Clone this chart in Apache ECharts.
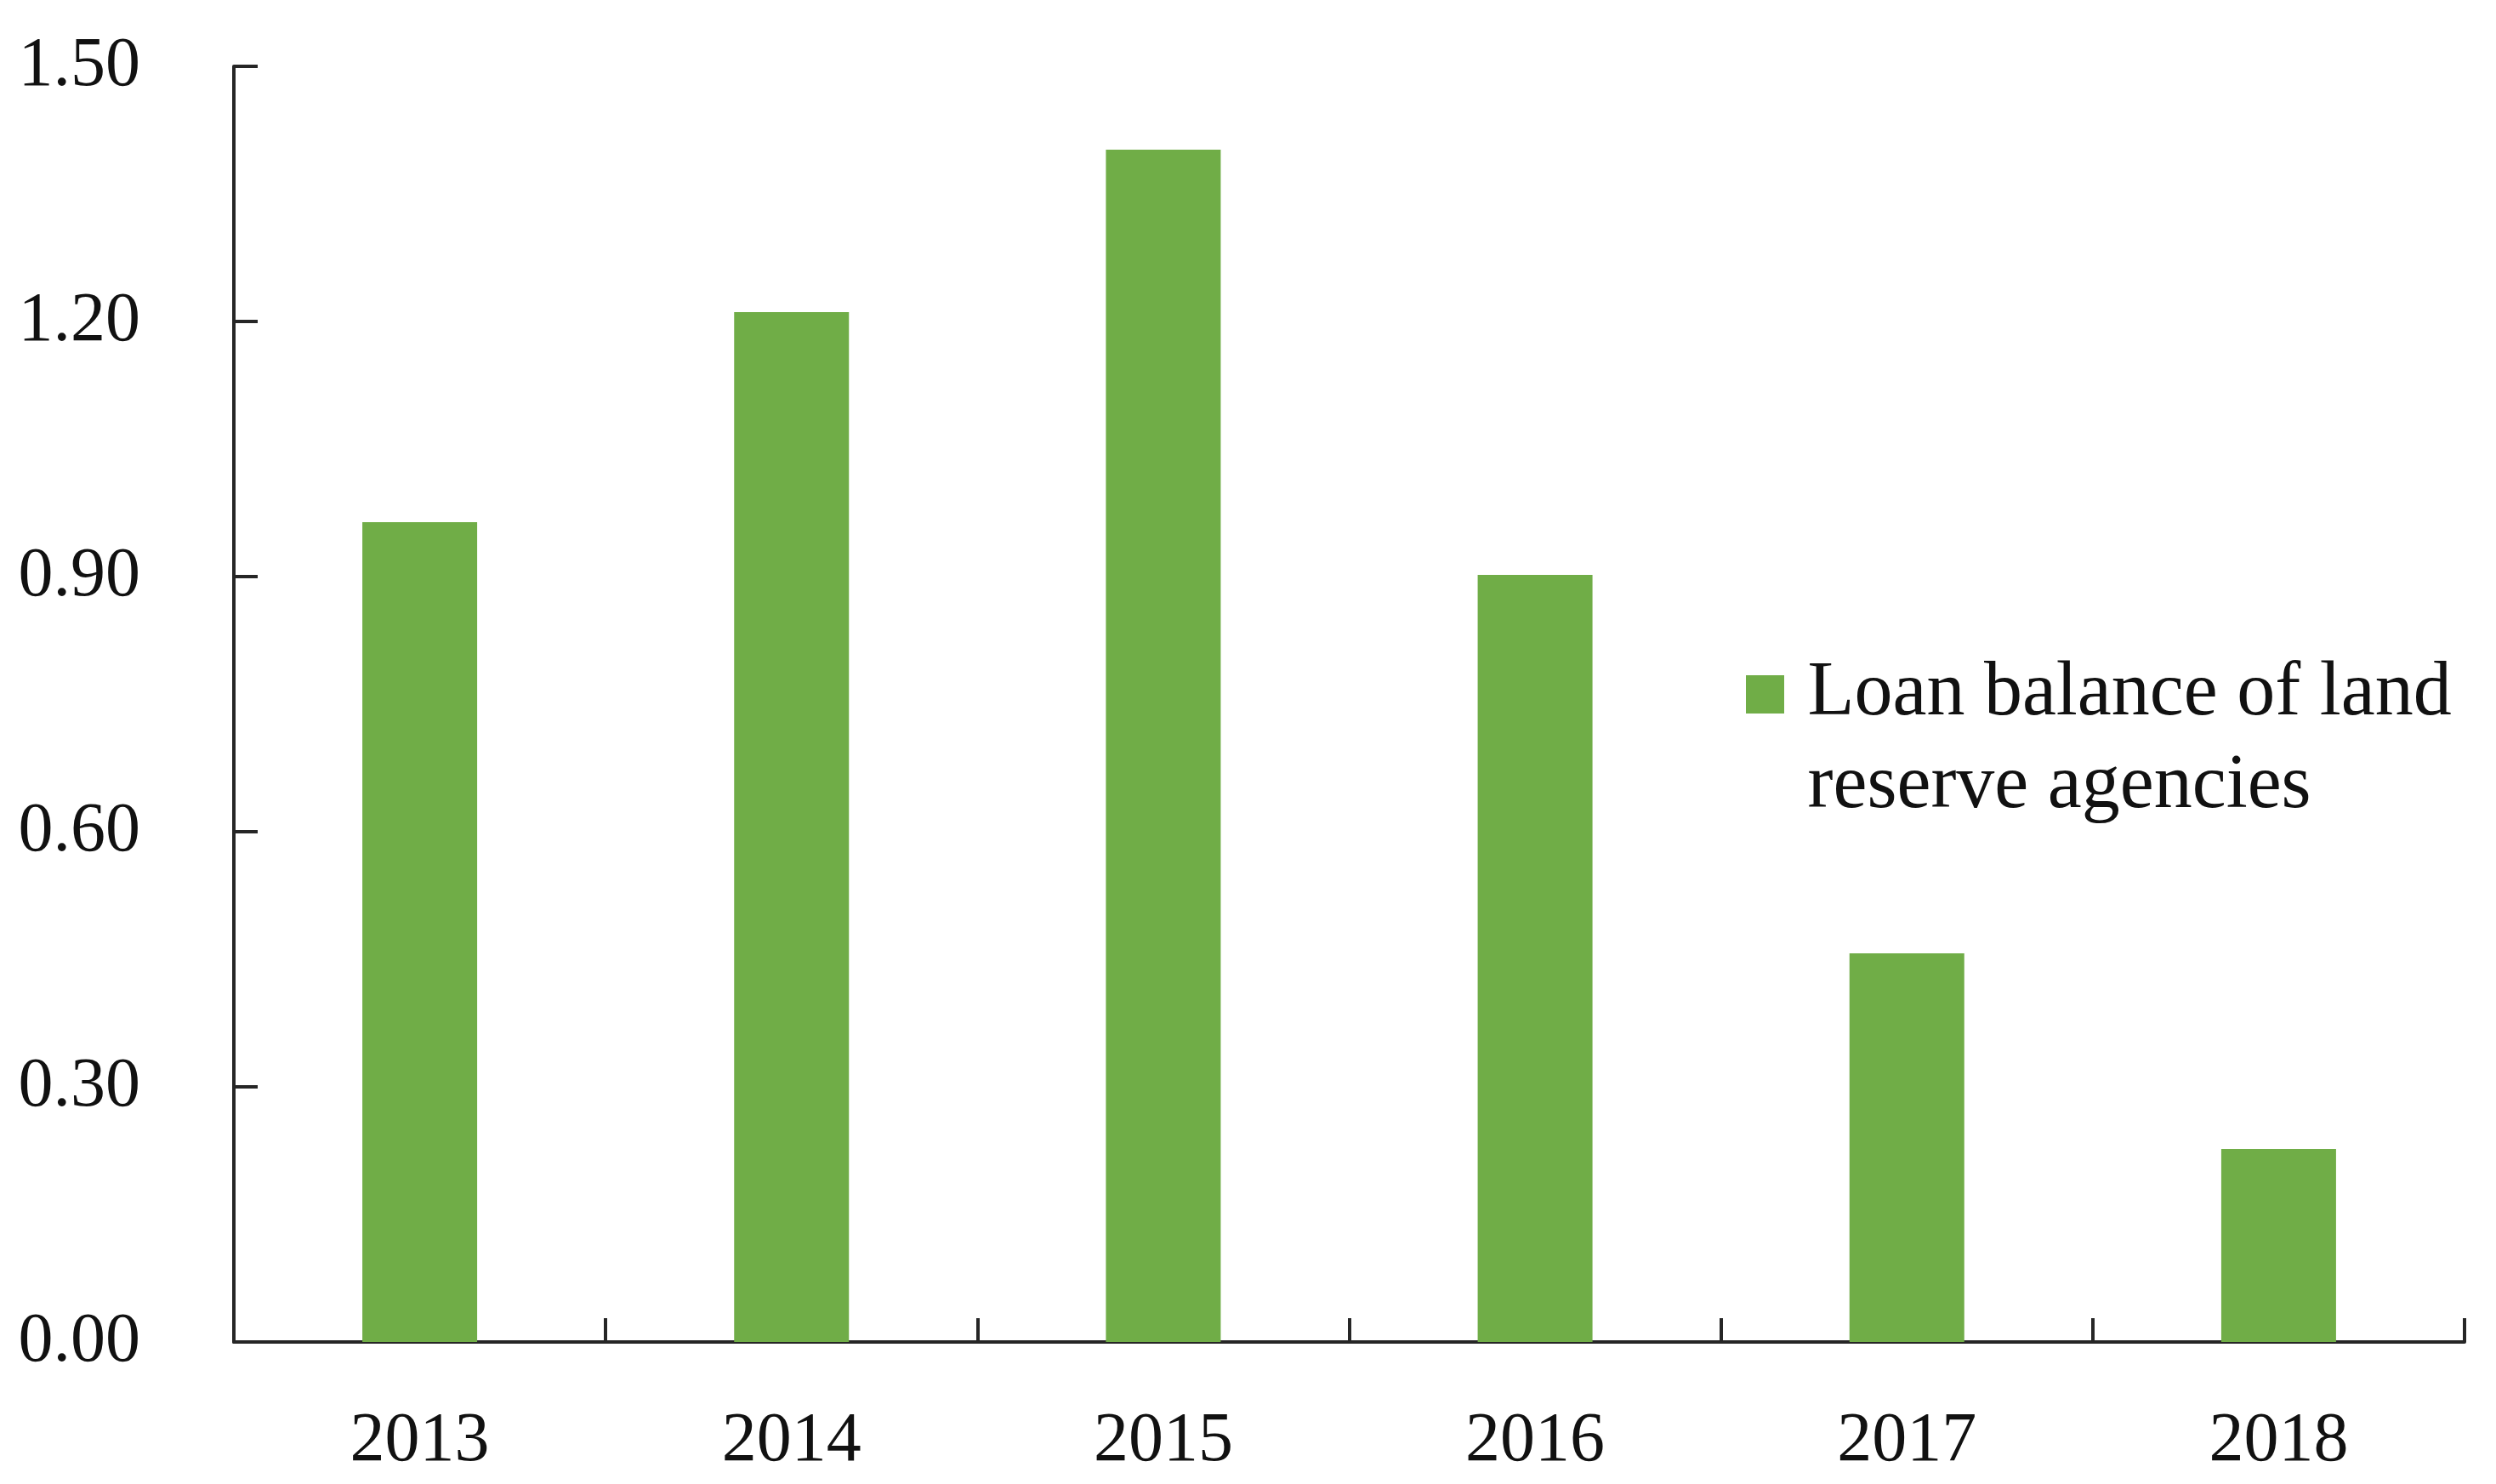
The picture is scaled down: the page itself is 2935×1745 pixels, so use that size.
<!DOCTYPE html>
<html>
<head>
<meta charset="utf-8">
<script src="https://cdn.jsdelivr.net/npm/echarts@6/dist/echarts.min.js"></script>
<style>
  html, body { margin: 0; padding: 0; background: #fff; }
  #chart { width: 2935px; height: 1745px; }
</style>
</head>
<body>
<div id="chart"></div>
<script>
const years = ['2013', '2014', '2015', '2016', '2017', '2018']
const loanBalance = [0.964, 1.211, 1.402, 0.902, 0.457, 0.227]
const seriesName = 'Loan balance of land reserve agencies'

const axisColor = '#262626'
const font = 'Liberation Serif'

const chart = echarts.init(document.getElementById('chart'))

chart.setOption({
  backgroundColor: '#fff',
  animation: false,
  grid: {
    left: 275,
    right: 37,
    top: 78,
    bottom: 167
  },
  legend: {
    left: 2048,
    top: 648,
    icon: 'rect',
    itemWidth: 45,
    itemHeight: 45,
    data: [seriesName],
    // blank first line keeps the square level with the first text line
    formatter: () => '\n Loan balance of land\n reserve agencies',
    textStyle: {
      fontFamily: font,
      fontSize: 90,
      color: '#111',
      lineHeight: 109
    }
  },
  xAxis: {
    type: 'category',
    data: years,
    axisLine: { lineStyle: { color: axisColor, width: 4 } },
    axisTick: { show: true, inside: true, length: 28, lineStyle: { color: axisColor, width: 4 } },
    axisLabel: {
      fontFamily: font,
      fontSize: 82,
      color: '#111',
      margin: 76
    }
  },
  yAxis: {
    type: 'value',
    min: 0,
    max: 1.5,
    interval: 0.3,
    splitLine: { show: false },
    axisLine: { show: true, lineStyle: { color: axisColor, width: 4 } },
    axisTick: { show: true, inside: true, length: 28, lineStyle: { color: axisColor, width: 4 } },
    axisLabel: {
      fontFamily: font,
      fontSize: 82,
      color: '#111',
      margin: 110,
      formatter: v => v.toFixed(2)
    }
  },
  series: [
    {
      name: seriesName,
      type: 'bar',
      data: loanBalance,
      barWidth: 135,
      itemStyle: { color: '#70AD47' }
    }
  ]
})
</script>
</body>
</html>
